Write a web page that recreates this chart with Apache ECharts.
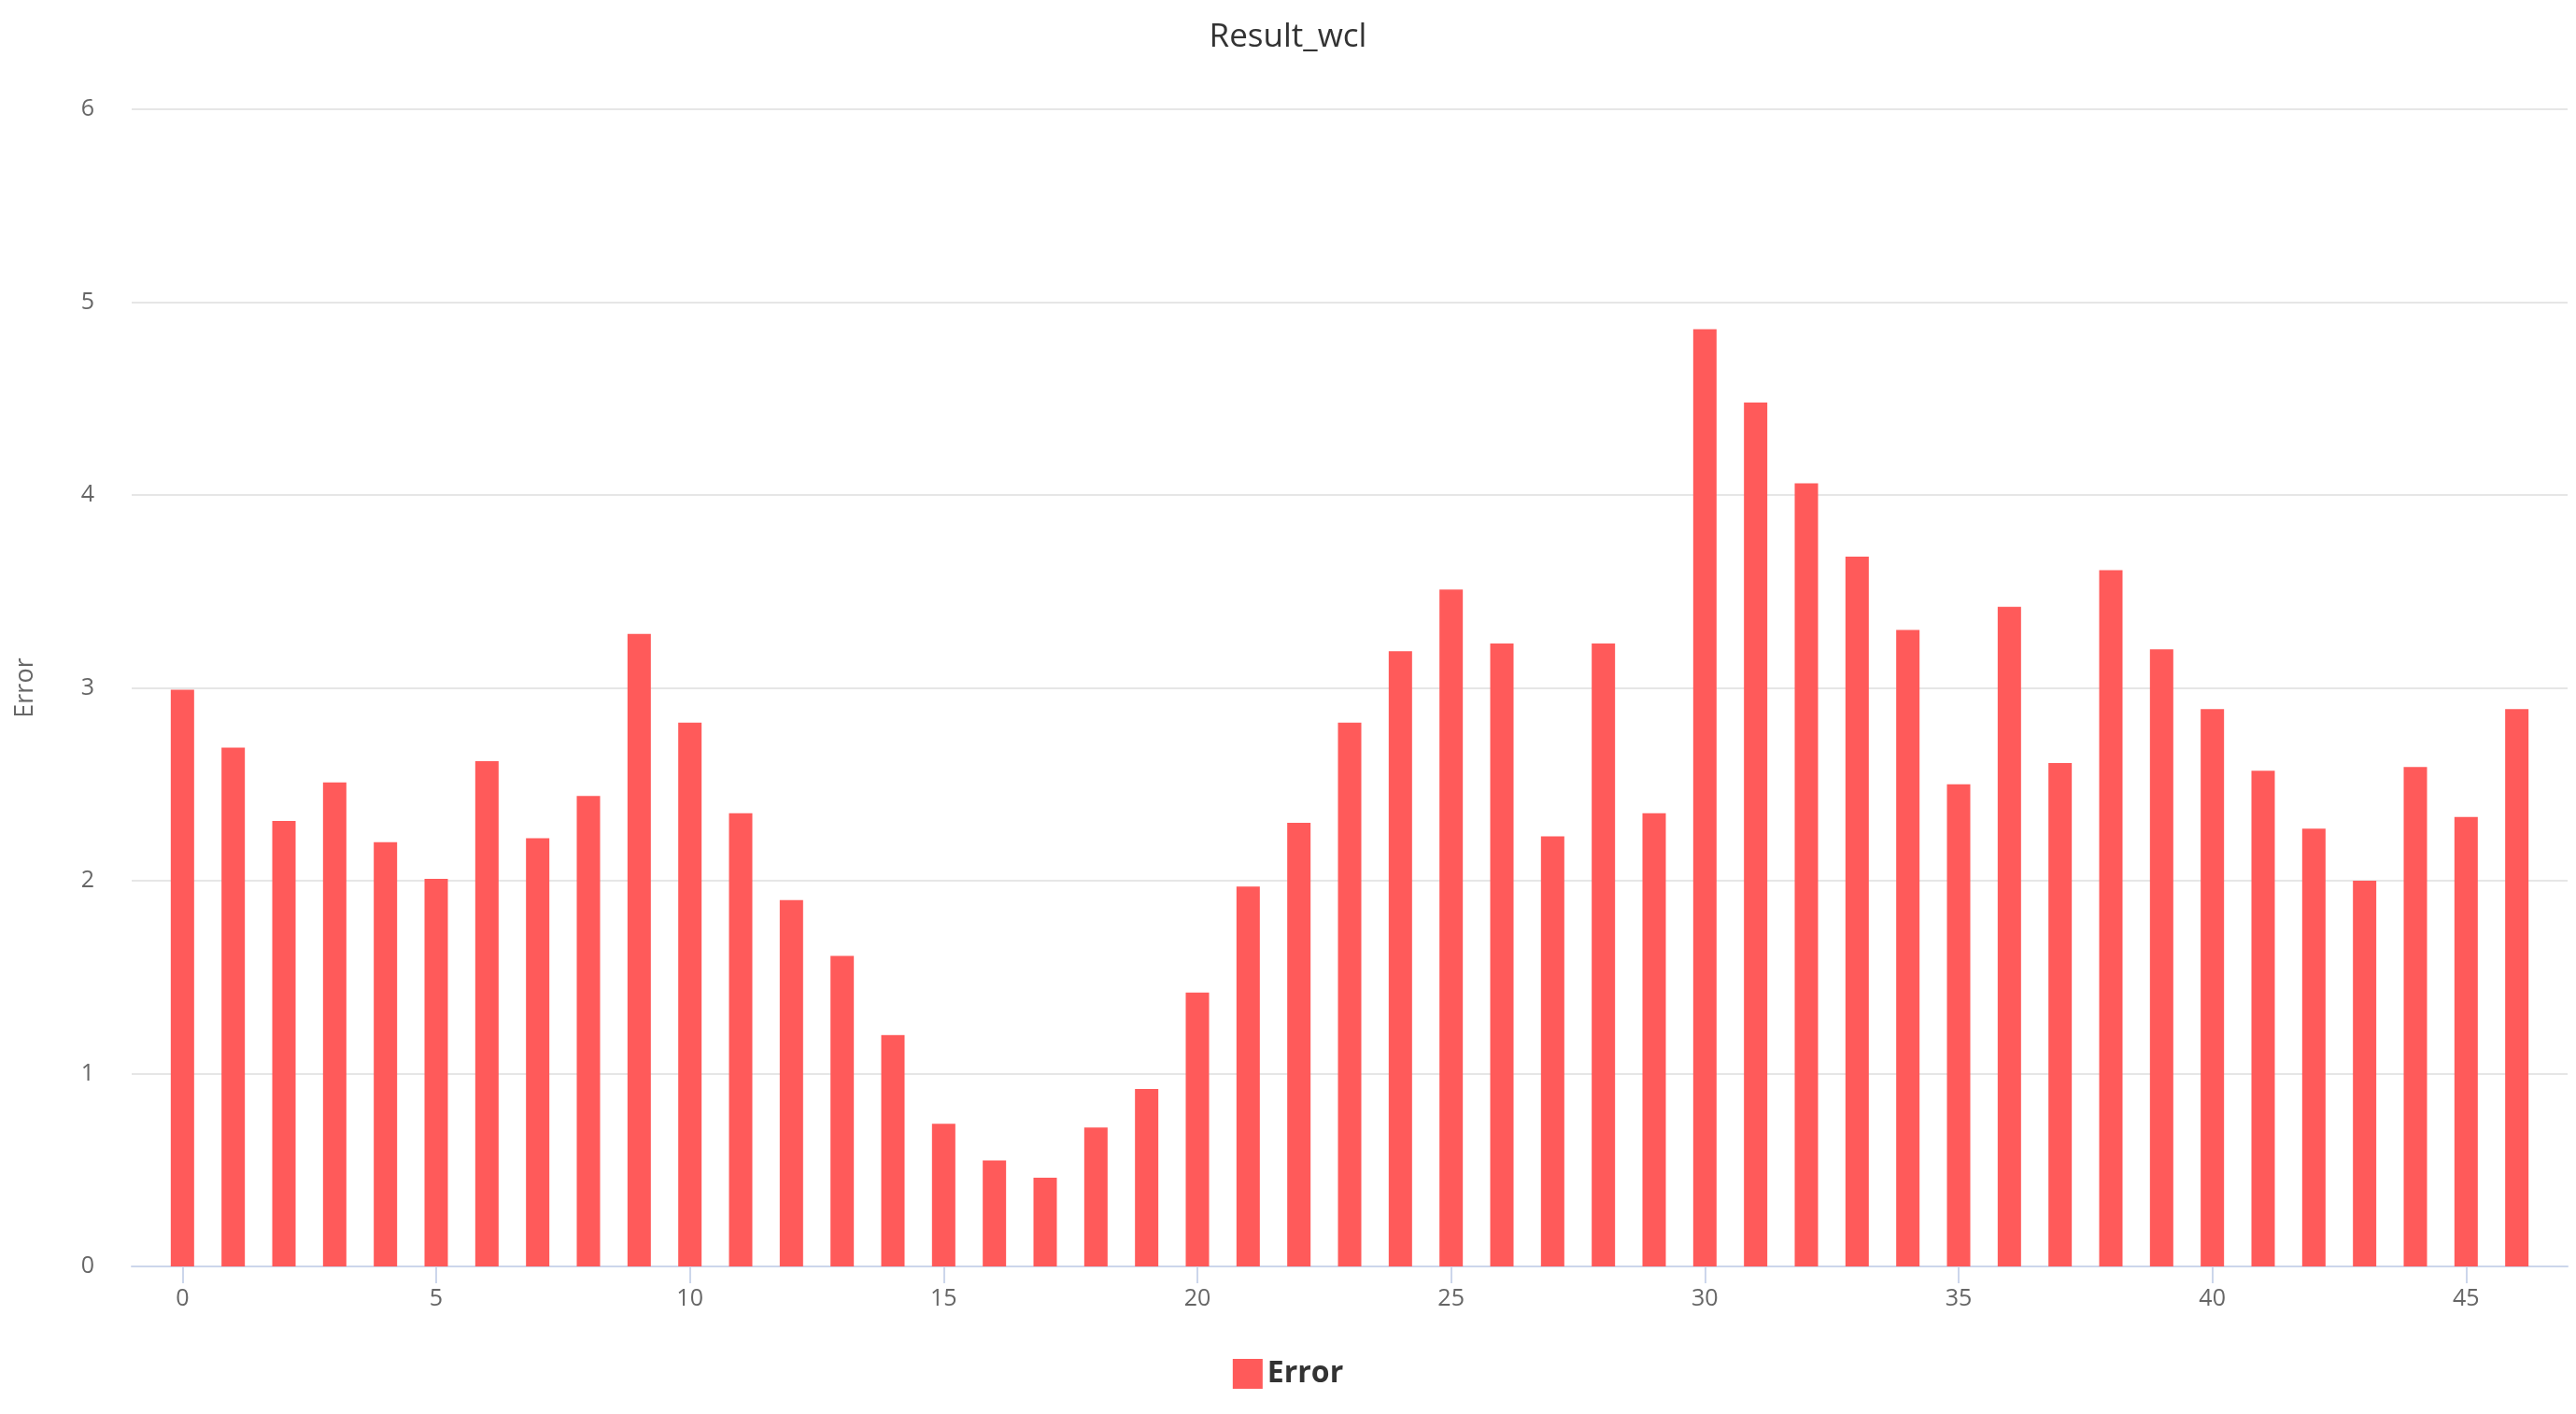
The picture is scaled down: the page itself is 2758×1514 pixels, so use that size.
<!DOCTYPE html>
<html>
<head>
<meta charset="utf-8">
<script src="https://cdn.jsdelivr.net/npm/echarts@6/dist/echarts.min.js"></script>
<style>html,body{margin:0;padding:0;background:#fff}#chart{width:2758px;height:1514px}</style>
</head>
<body>
<div id="chart"></div>
<script>
const categories = ['-1', '0', '1', '2', '3', '4', '5', '6', '7', '8', '9', '10', '11', '12', '13', '14', '15',
  '16', '17', '18', '19', '20', '21', '22', '23', '24', '25', '26', '27', '28', '29', '30', '31',
  '32', '33', '34', '35', '36', '37', '38', '39', '40', '41', '42', '43', '44', '45', '46', '47'];
const errorValues = [2.99, 2.69, 2.31, 2.51, 2.20, 2.01, 2.62, 2.22, 2.44, 3.28, 2.82, 2.35, 1.90, 1.61,
  1.20, 0.74, 0.55, 0.46, 0.72, 0.92, 1.42, 1.97, 2.30, 2.82, 3.19, 3.51, 3.23, 2.23, 3.23, 2.35,
  4.86, 4.48, 4.06, 3.68, 3.30, 2.50, 3.42, 2.61, 3.61, 3.20, 2.89, 2.57, 2.27, 2.00, 2.59, 2.33, 2.89];

const barData = [null, ...errorValues, null];
const showLabel = (i, v) => Number(v) >= 0 && Number(v) % 5 === 0;

const chart = echarts.init(document.getElementById('chart'));
chart.setOption({
  animation: false,
  title: {
    text: 'Result_wcl',
    left: 'center',
    top: 18,
    textStyle: { color: '#333', fontSize: 35, fontWeight: 'normal', fontFamily: 'Open Sans' },
  },
  legend: {
    bottom: 22,
    left: 'center',
    icon: 'rect',
    itemWidth: 32,
    itemHeight: 32,
    textStyle: { color: '#333', fontSize: 32, fontWeight: 'bold', fontFamily: 'Open Sans' },
  },
  grid: { left: 141, right: 9, top: 117, bottom: 158 },
  xAxis: {
    type: 'category',
    data: categories,
    boundaryGap: false,
    axisLine: { lineStyle: { color: '#ccd6eb', width: 2 } },
    axisTick: { interval: showLabel, length: 18, lineStyle: { color: '#ccd6eb', width: 2 } },
    axisLabel: { interval: showLabel, color: '#666', fontSize: 25, margin: 22, fontFamily: 'Open Sans' },
    splitLine: { show: false },
  },
  yAxis: {
    type: 'value',
    min: 0,
    max: 6,
    interval: 1,
    name: 'Error',
    nameLocation: 'middle',
    nameGap: 100,
    nameTextStyle: { color: '#666', fontSize: 27, fontFamily: 'Open Sans' },
    axisLine: { show: false },
    axisTick: { show: false },
    axisLabel: { color: '#666', fontSize: 25, margin: 40, fontFamily: 'Open Sans' },
    splitLine: { lineStyle: { color: '#e6e6e6', width: 2 } },
  },
  series: [
    {
      name: 'Error',
      type: 'bar',
      data: barData,
      barWidth: 25,
      itemStyle: { color: '#ff5a5a' },
    },
  ],
});
</script>
</body>
</html>
